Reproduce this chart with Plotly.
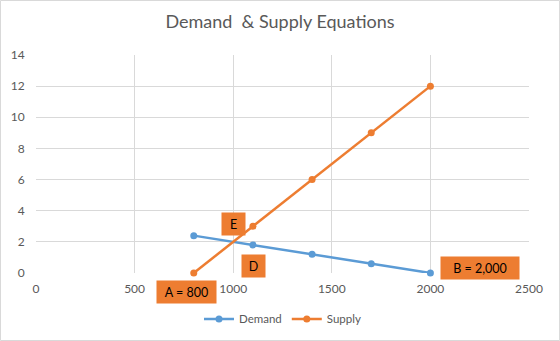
import plotly.graph_objects as go

quantity = [800, 1100, 1400, 1700, 2000]
demand = [2.4, 1.8, 1.2, 0.6, 0.0]
supply = [0, 3, 6, 9, 12]

labels = ["E", "D", "A = 800", "B = 2,000"]
# label centres in paper fraction of the plot area
label_px = [0.3996, 0.4402, 0.306, 0.9006]
label_py = [0.2248, 0.0321, -0.087, 0.025]
label_w = [21, 21, 57, 76]

BLUE = "#5B9BD5"
ORANGE = "#ED7D31"
GRAY = "#595959"
FONT = "Lato, 'Open Sans', sans-serif"

fig = go.Figure()
fig.add_trace(go.Scatter(x=quantity, y=demand, name="Demand", mode="lines+markers", cliponaxis=False,
                         line=dict(color=BLUE, width=2.5), marker=dict(size=7, color=BLUE)))
fig.add_trace(go.Scatter(x=quantity, y=supply, name="Supply", mode="lines+markers", cliponaxis=False,
                         line=dict(color=ORANGE, width=2.5), marker=dict(size=7, color=ORANGE)))

for t, x, y, w in zip(labels, label_px, label_py, label_w):
    fig.add_annotation(x=x, y=y, xref="paper", yref="paper", text=t, showarrow=False,
                       xanchor="center", yanchor="middle",
                       bgcolor=ORANGE, width=w, height=20,
                       font=dict(family=FONT, size=12.5, color="#000000"))

fig.add_shape(type="rect", xref="paper", yref="paper", x0=-0.072, x1=1.062, y0=-0.3096, y1=1.25,
              line=dict(color="#d9d9d9", width=1), fillcolor="rgba(0,0,0,0)", layer="below")

fig.update_layout(
    width=560, height=341,
    margin=dict(l=36, r=31, t=55, b=68, autoexpand=False),
    paper_bgcolor="white", plot_bgcolor="white",
    title=dict(text="Demand  & Supply Equations", x=0.5, xanchor="center", y=1 - 22/341, yanchor="middle",
               font=dict(family=FONT, size=18, color=GRAY)),
    font=dict(family=FONT, color=GRAY, size=11),
    showlegend=True,
    legend=dict(orientation="h", x=0.5, xanchor="center", y=-0.211, yanchor="middle",
                font=dict(size=11.5, color=GRAY)),
    xaxis=dict(range=[0, 2500], dtick=500, showgrid=True, gridcolor="#d9d9d9", zeroline=False,
               showline=False, ticks="outside", ticklen=5, tickcolor="rgba(0,0,0,0)",
               tickfont=dict(size=12, color=GRAY)),
    yaxis=dict(range=[0, 14], dtick=2, showgrid=True, gridcolor="#d9d9d9", zeroline=False,
               showline=False, ticks="outside", ticklen=8, tickcolor="rgba(0,0,0,0)",
               tickfont=dict(size=12, color=GRAY)),
)

fig.write_html("out.html")
